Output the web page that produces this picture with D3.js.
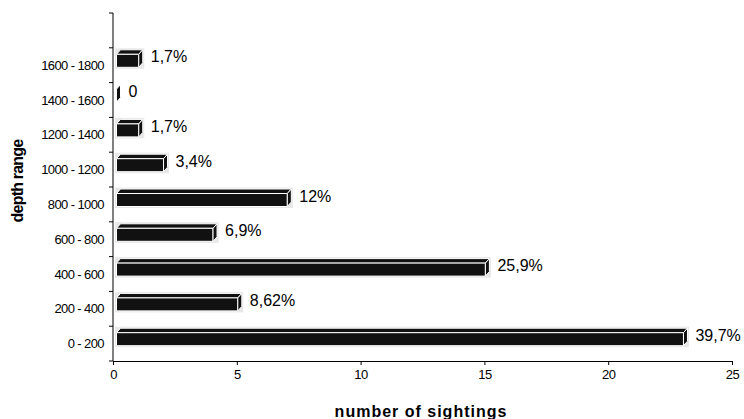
<!DOCTYPE html>
<html>
<head>
<meta charset="utf-8">
<script src="https://cdn.jsdelivr.net/npm/d3@7"></script>
<style>
  body { margin: 0; background: #fff; }
  text { font-family: "Liberation Sans", Arial, sans-serif; fill: #000; }
</style>
</head>
<body>
<div id="chart"></div>
<script>
// data
const depthRanges = ["0 - 200", "200 - 400", "400 - 600", "600 - 800", "800 - 1000",
                     "1000 - 1200", "1200 - 1400", "1400 - 1600", "1600 - 1800"];
const sightings = [23, 5, 15, 4, 7, 2, 1, 0, 1];
const percentLabels = ["39,7%", "8,62%", "25,9%", "6,9%", "12%", "3,4%", "1,7%", "0", "1,7%"];
const xTicks = [0, 5, 10, 15, 20, 25];

const width = 744, height = 419;
const margin = {top: 13, right: 12, bottom: 58, left: 113};

const svg = d3.select("#chart")
    .append("svg")
    .attr("width", width)
    .attr("height", height);

// x scale
const x = d3.scaleLinear()
    .domain([0, 25])
    .range([margin.left, width - margin.right]);

// y scale: one empty band at the top
const y = d3.scaleBand()
    .domain(depthRanges.concat([""]))
    .range([height - margin.bottom, margin.top])
    .padding(0);

// X axis
svg.append("g")
    .attr("transform", "translate(0," + (height - margin.bottom) + ")")
    .call(d3.axisBottom(x).tickValues(xTicks).tickSize(4).tickSizeOuter(0))
    .call(g => g.select(".domain").attr("stroke", "#000"))
    .call(g => g.selectAll(".tick line").attr("stroke", "#000"))
    .call(g => g.selectAll(".tick text")
        .attr("y", 9)
        .style("font-size", "13px")
        .style("letter-spacing", "-0.5px")
        .style("font-family", "Liberation Sans, Arial, sans-serif"));

// Y axis, ticks on band borders
const bandEdges = d3.range(y.domain().length + 1).map(i => height - margin.bottom - i * y.bandwidth());
const yAxis = svg.append("g");
yAxis.append("line")
    .attr("x1", x(0)).attr("x2", x(0))
    .attr("y1", y.range()[1]).attr("y2", y.range()[0])
    .attr("stroke", "#000");
yAxis.selectAll(".ytick")
    .data(bandEdges)
    .join("line")
    .attr("class", "ytick")
    .attr("x1", x(0) - 4).attr("x2", x(0))
    .attr("y1", d => d).attr("y2", d => d)
    .attr("stroke", "#000");
yAxis.selectAll(".ylabel")
    .data(depthRanges)
    .join("text")
    .attr("class", "ylabel")
    .attr("x", x(0) - 9)
    .attr("y", d => y(d) + y.bandwidth() / 2)
    .attr("dy", "0.35em")
    .attr("text-anchor", "end")
    .style("font-size", "13px")
    .style("letter-spacing", "-0.6px")
    .text(d => d);

// 3D bars
const frontH = 13, depthX = 4, depthY = 4.5, frontOff = 6.5;
const x0 = x(0) + 3.5;
const bars = svg.append("g");
const barData = depthRanges.map((c, i) => ({cat: c, v: sightings[i], label: percentLabels[i]}));

barData.forEach(d => {
    const ft = y(d.cat) + frontOff;
    const xe = Math.max(x(d.v) + 1, x0);
    const g = bars.append("g");
    const face = sel => sel.attr("fill", "#111")
        .attr("stroke", "#fff").attr("stroke-width", 1)
        .attr("stroke-linejoin", "round");
    if (d.v > 0) {
        // halo
        g.append("rect")
            .attr("x", x0 - 1.5).attr("y", ft - depthY - 1.5)
            .attr("width", xe - x0 + depthX + 3).attr("height", frontH + depthY + 3)
            .attr("fill", "#e8e8e8");
        // top face
        g.append("path")
            .attr("d", `M${x0},${ft} L${x0 + depthX},${ft - depthY} L${xe + depthX},${ft - depthY} L${xe},${ft} Z`)
            .call(face);
        // front face
        g.append("rect")
            .attr("x", x0).attr("y", ft)
            .attr("width", xe - x0).attr("height", frontH)
            .call(face);
    }
    // side face
    g.append("path")
        .attr("d", `M${xe},${ft} L${xe + depthX},${ft - depthY} L${xe + depthX},${ft + frontH - depthY} L${xe},${ft + frontH} Z`)
        .call(face);

    // value label
    svg.append("text")
        .attr("x", xe + depthX + 8)
        .attr("y", y(d.cat) + 9)
        .attr("dy", "0.35em")
        .style("font-size", "16px")
        .text(d.label);
});

// axis titles
svg.append("text")
    .attr("x", 421)
    .attr("y", 417)
    .attr("text-anchor", "middle")
    .style("font-size", "16px")
    .style("font-weight", "bold")
    .style("letter-spacing", "1px")
    .text("number of sightings");

svg.append("text")
    .attr("transform", "translate(23,181) rotate(-90)")
    .attr("text-anchor", "middle")
    .style("font-size", "16px")
    .style("font-weight", "bold")
    .style("letter-spacing", "-0.8px")
    .text("depth range");
</script>
</body>
</html>
